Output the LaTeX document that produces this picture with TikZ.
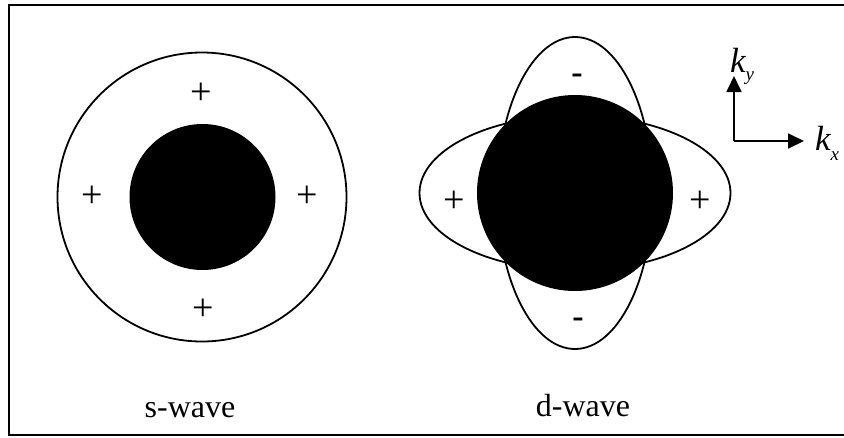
\documentclass[tikz,border=0pt]{standalone}
\usepackage{fontspec}
\setmainfont{Liberation Serif}
\usetikzlibrary{arrows.meta}
\begin{document}
\begin{tikzpicture}[x=1pt,y=-1pt,
  outline/.style={line width=1.8pt},
  disc/.style={fill=black,draw=none},
  sign/.style={inner sep=0pt,font=\fontsize{38}{44}\selectfont},
  caption/.style={inner sep=0pt,anchor=base,font=\fontsize{32}{38}\selectfont},
  kaxis/.style={line width=1.8pt,-{Triangle[length=16pt,width=15pt]}},
  klabel/.style={inner sep=0pt,anchor=base west,font=\fontsize{35}{40}\selectfont\itshape}]
\useasboundingbox (0,0) rectangle (844,437);
\draw[line width=2.2pt] (846,5) -- (9,5) -- (9,435) -- (846,435);
% s-wave
\draw[outline] (202,197) circle (144.5);
\fill[disc] (202.5,197) circle (73);
\node[sign] (s1) at (201,94) {+};
\node[sign] (s2) at (92,197) {+};
\node[sign] (s3) at (307,197) {+};
\node[sign] (s4) at (203,310) {+};
\node[caption] (sl) at (190,417) {s-wave};
% d-wave
\draw[outline] (575,193) ellipse (155.5 and 77.5);
\draw[outline] (575,193) ellipse (77.5 and 156);
\fill[disc] (575,193) circle (98);
\node[sign,font=\fontsize{34}{40}\selectfont\bfseries] (d1) at (577,79) {-};
\node[sign,font=\fontsize{34}{40}\selectfont\bfseries] (d2) at (578,323) {-};
\node[sign] (d3) at (454,202) {+};
\node[sign] (d4) at (700,202) {+};
\node[caption] (dl) at (583,416) {d-wave};
% axes
\coordinate (o) at (734,141);
\coordinate (ty) at (734,76);
\coordinate (tx) at (804,141);
\draw[kaxis] (o) -- (ty);
\draw[kaxis] (o) -- (tx);
\node[klabel] (ky) at (730,72) {k\raisebox{-8pt}{\fontsize{19}{19}\selectfont y}};
\node[klabel] (kx) at (815,150) {k\raisebox{-10pt}{\fontsize{19}{19}\selectfont x}};
\end{tikzpicture}
\end{document}
